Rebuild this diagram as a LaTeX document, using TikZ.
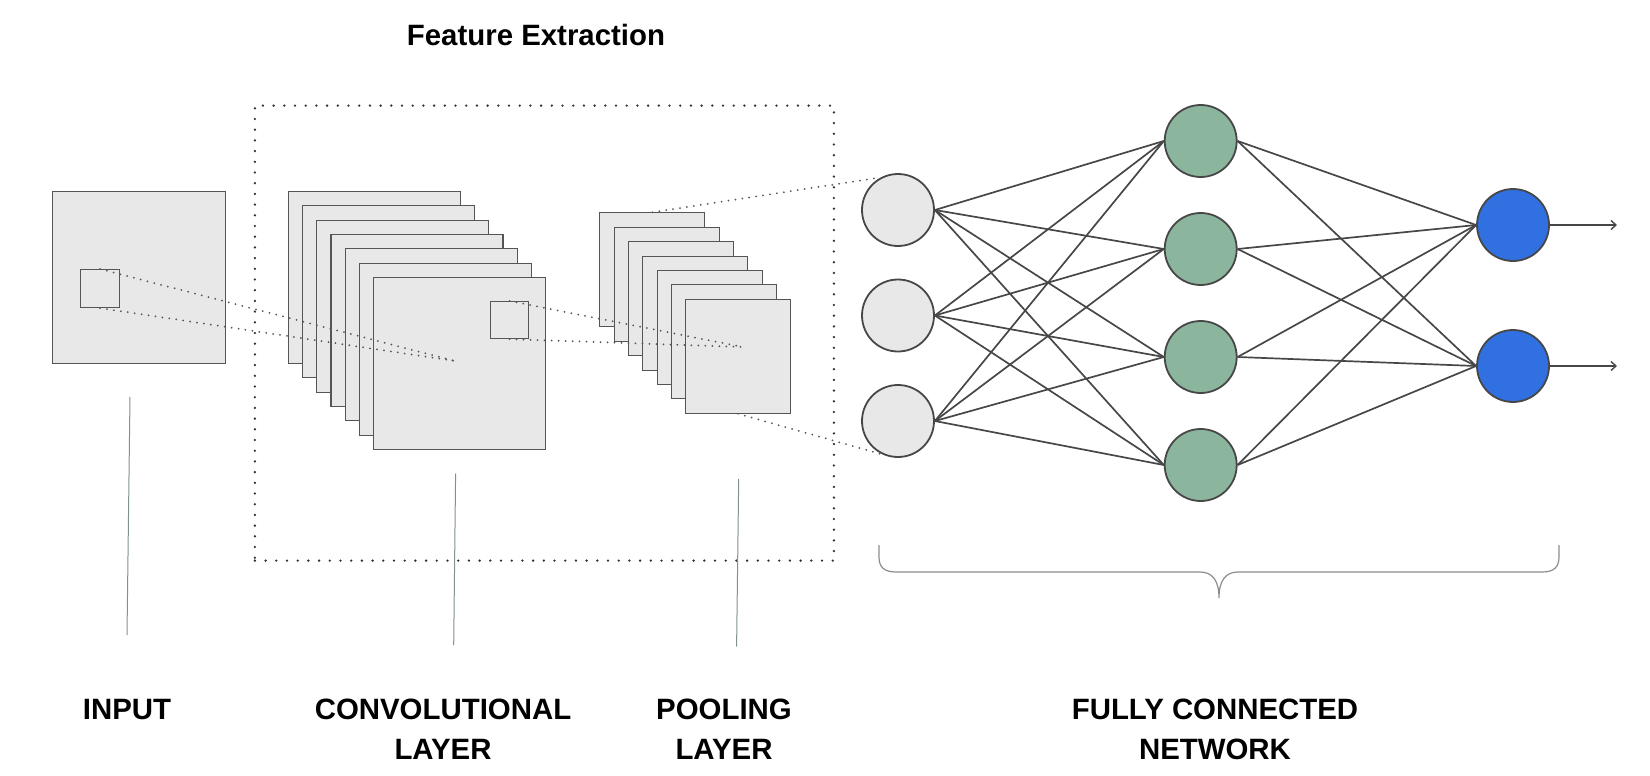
\documentclass[tikz,border=0pt]{standalone}
\usepackage{fontspec}
\setmainfont{Liberation Sans}
\usetikzlibrary{arrows.meta}
\definecolor{boxfill}{HTML}{E8E8E8}
\definecolor{edge}{HTML}{555555}
\definecolor{lineg}{HTML}{474747}
\definecolor{hid}{HTML}{8BB59D}
\definecolor{outb}{HTML}{3070E0}
\definecolor{tickc}{HTML}{7F9488}
\definecolor{bracec}{HTML}{8C8C8C}
\definecolor{dotc}{HTML}{333333}
\begin{document}
\begin{tikzpicture}[x=1pt,y=-1pt,
  sq/.style={draw=edge,fill=boxfill,line width=1.1pt,inner sep=0pt,anchor=north west},
  proj/.style={draw=edge,line width=2pt,dash pattern=on 0pt off 7pt,line cap=round},
  fbox/.style={draw=dotc,line width=2.6pt,dash pattern=on 0pt off 10.7pt,line cap=round,inner sep=0pt,anchor=north west},
  neuron/.style={circle,draw=lineg,line width=1.8pt,minimum size=72pt,inner sep=0pt},
  conn/.style={draw=lineg,line width=1.7pt},
  tickline/.style={draw=tickc,line width=1pt},
  lbl/.style={font=\fontsize{29.4}{40}\selectfont\bfseries,anchor=base,align=center,inner sep=0pt},
  outarrow/.style={draw=lineg,line width=1.4pt,-{Straight Barb[length=5pt,width=9pt]}}
]
\useasboundingbox (0,0) rectangle (1650,776);

% title
\node[lbl] (title) at (536,46) {Feature Extraction};

% feature extraction box
\node[fbox,minimum width=579pt,minimum height=455pt] (fe) at (253.6,104.3) {};

% input
\node[sq,minimum width=173pt,minimum height=172pt] (in) at (52,191) {};
\node[sq,minimum width=39pt,minimum height=38pt] (inwin) at (80,269) {};

% convolutional layer
\foreach \i in {0,...,6}
  \node[sq,minimum width=172pt,minimum height=172pt] (c\i) at ({287.5+14.3*\i},{190.7+14.4*\i}) {};
\node[sq,minimum width=38pt,minimum height=37pt] (cwin) at (490,301) {};

% pooling layer
\foreach \i in {0,...,6}
  \node[sq,minimum width=105pt,minimum height=114pt] (p\i) at ({599.3+14.3*\i},{212.3+14.4*\i}) {};

% fully connected nodes
\node[neuron,fill=boxfill] (i1) at (898,210) {};
\node[neuron,fill=boxfill] (i2) at (898,315.5) {};
\node[neuron,fill=boxfill] (i3) at (898,421) {};
\node[neuron,fill=hid] (h1) at (1200.7,141) {};
\node[neuron,fill=hid] (h2) at (1200.7,249) {};
\node[neuron,fill=hid] (h3) at (1200.7,357) {};
\node[neuron,fill=hid] (h4) at (1200.7,465) {};
\node[neuron,fill=outb] (o1) at (1513,225) {};
\node[neuron,fill=outb] (o2) at (1513,366) {};

% projection lines
\coordinate (f1) at (455,361);
\coordinate (f2) at (743,347);
\draw[proj] (inwin.north) -- (f1);
\draw[proj] (inwin.south) -- (f1);
\draw[proj] (cwin.north) -- (f2);
\draw[proj] (cwin.south) -- (f2);
\draw[proj] (p0.north) -- (i1.118);
\draw[proj] (p6.south) -- (i3.245);

% connections
\foreach \a in {1,2,3}
  \foreach \b in {1,...,4}
    \draw[conn] (i\a.east) -- (h\b.west);
\foreach \a in {1,...,4}
  \foreach \b in {1,2}
    \draw[conn] (h\a.east) -- (o\b.west);

% outputs
\coordinate (a1) at (1617,225);
\coordinate (a2) at (1617,366);
\draw[outarrow] (o1.east) -- (a1);
\draw[outarrow] (o2.east) -- (a2);

% label ticks
\coordinate (t1a) at (130,397);
\coordinate (t1b) at (127,635);
\coordinate (t2a) at (455.6,473.5);
\coordinate (t2b) at (453.7,645);
\coordinate (t3a) at (738.7,478.8);
\coordinate (t3b) at (736.6,646.5);
\draw[tickline] (t1a) -- (t1b);
\draw[tickline] (t2a) -- (t2b);
\draw[tickline] (t3a) -- (t3b);

% brace
\coordinate (bl) at (879,545);
\coordinate (br) at (1559,545);
\coordinate (btip) at (1219,598);
\draw[draw=bracec,line width=1.2pt] (bl) -- (879,557) .. controls (879,567) and (884,572) .. (896,572)
  -- (1200,572) .. controls (1212,572) and (1219,580) .. (btip)
  .. controls (1219,580) and (1226,572) .. (1238,572)
  -- (1542,572) .. controls (1554,572) and (1559,567) .. (1559,557) -- (br);

% labels
\node[lbl] (linput) at (127,719) {INPUT};
\node[lbl] (lconv) at (443,759) {CONVOLUTIONAL\\LAYER};
\node[lbl] (lpool) at (724,759) {POOLING\\LAYER};
\node[lbl] (lfc) at (1215,759) {FULLY CONNECTED\\NETWORK};
\end{tikzpicture}
\end{document}
